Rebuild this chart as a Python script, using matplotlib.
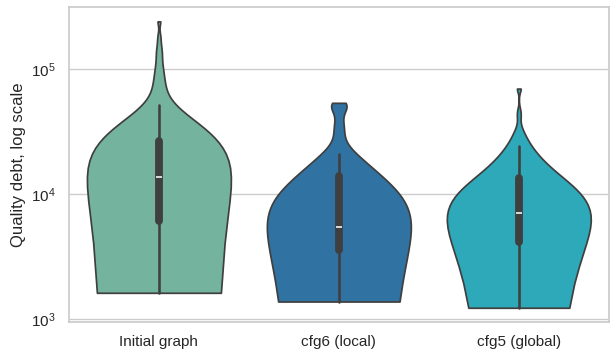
import matplotlib
matplotlib.use("Agg")
import matplotlib.pyplot as plt
import pandas as pd
import seaborn as sns

# quality debt per run, one list per configuration
configs = ["Initial graph", "cfg6 (local)", "cfg5 (global)"]
colors = ["#74b49f", "#3072a1", "#2da9ba"]

initial_graph = [
    1615, 1950, 2300, 2650, 2950, 3250, 3550, 3800, 4050, 4300, 4550, 4800,
    5050, 5300, 5550, 5750, 5950,
    6050, 6250, 6700, 7150, 7600, 8050, 8500, 9000, 9500, 10000, 10500,
    11000, 11500, 12000, 12500, 13000, 13400,
    13600, 13800, 14300, 14900, 15500, 16100, 16800, 17500, 18300, 19100,
    20000, 20900, 21800, 22800, 23800, 24800, 25700, 26300,
    26600, 27100, 27800, 28700, 30000, 32500, 36000, 42000, 51500,
    62000, 70000, 80000, 92000, 105000, 130000, 145000, 180000, 242000,
]

cfg6_local = [
    1375, 1500, 1650, 1800, 1950, 2100, 2250, 2400, 2550, 2700, 2850, 3000,
    3150, 3300, 3450, 3520,
    3550, 3700, 3800, 3900, 4000, 4100, 4250, 4400, 4550, 4700, 4850, 5000,
    5100, 5200, 5280, 5330,
    5350, 5480, 5900, 6400, 7000, 7600, 8200, 8800, 9400, 10000, 10600,
    11200, 11800, 12500, 13200,
    13600, 13800, 14000, 14600, 15300, 16100, 16900, 17800, 18800, 19800,
    20800,
    31000, 32500, 37000, 47000, 49000, 51000, 52500, 53800,
]

cfg5_global = [
    1225, 2000, 2500, 2900, 3150, 3350, 3500, 3600, 3700, 3780, 3850, 3920,
    3980, 4040, 4100,
    4170, 4350, 4550, 4750, 4950, 5150, 5350, 5550, 5750, 5950, 6150, 6350,
    6550, 6750, 7000,
    7100, 7500, 7900, 8300, 8700, 9100, 9500, 9900, 10400, 10900, 11400,
    11900, 12400, 12850, 13300,
    13700, 14300, 15100, 16000, 17000, 18000, 19000, 20200, 21500, 23000,
    24400,
    28500, 31000, 44000, 70000,
]

values = [initial_graph, cfg6_local, cfg5_global]
df = pd.DataFrame({
    "config": [c for c, v in zip(configs, values) for _ in v],
    "debt": [x for v in values for x in v],
})

sns.set_theme(style="whitegrid")
plt.rcParams["font.family"] = ["Liberation Sans", "DejaVu Sans"]

fig, ax = plt.subplots(figsize=(6.1, 3.52), dpi=100)
sns.violinplot(data=df, x="config", y="debt", hue="config", order=configs,
               palette=colors, saturation=1, cut=0, density_norm="width",
               inner="box", legend=False, ax=ax)
ax.set_yscale("log")
ax.set_xlabel("")
ax.set_ylabel("Quality debt, log scale")

fig.subplots_adjust(left=0.113, right=0.998, top=0.980, bottom=0.085)
fig.savefig("out.png", dpi=100)
